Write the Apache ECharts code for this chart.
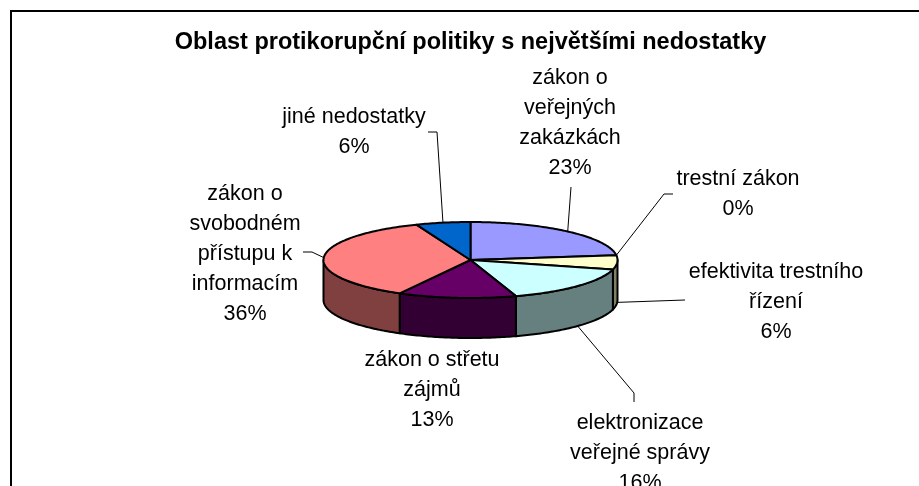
<!DOCTYPE html>
<html>
<head>
<meta charset="utf-8">
<title>Oblast protikorupční politiky</title>
<script src="https://cdn.jsdelivr.net/npm/echarts@6/dist/echarts.min.js"></script>
<style>
html, body { margin: 0; padding: 0; background: #fff; overflow: hidden; }
#chart { width: 919px; height: 486px; }
</style>
</head>
<body>
<div id="chart"></div>
<script>
var titleText = 'Oblast protikorupční politiky s největšími nedostatky';
var categories = ['zákon o\nveřejných\nzakázkách', 'trestní zákon', 'efektivita trestního\nřízení', 'elektronizace\nveřejné správy', 'zákon o střetu\nzájmů', 'zákon o\nsvobodném\npřístupu k\ninformacím', 'jiné nedostatky'];
var shares = [23, 0, 6, 16, 13, 36, 6];
var topColors = ['#9999FF', '#FFFFFF', '#FFFFCC', '#CCFFFF', '#660066', '#FF8080', '#0066CC'];
var wallColors = ['#4D4D80', '#808080', '#808066', '#668080', '#330033', '#804040', '#003366'];

// layout of the tilted pie
var cx = 470.5, cy = 260, rx = 147, ry = 38, depth = 40;
var labelX = [570, 738, 776, 640, 432, 245, 354];
var labelY = [63, 164, 257, 408, 345, 179, 102];
// leader elbows, listed from the label towards the pie
var leaders = [
    [[571, 187]],
    [[673, 194], [664, 194]],
    [[685, 300]],
    [[634, 402], [634, 393]],
    [],
    [[303, 252], [312, 252]],
    [[428, 132], [437, 132]]
];
var total = shares.reduce(function (a, b) { return a + b; }, 0);

function rim(angle, drop) {
    return [cx + rx * Math.sin(angle), cy - ry * Math.cos(angle) + (drop || 0)];
}
function arcPoints(from, to, drop) {
    var pts = [], n = Math.max(2, Math.ceil((to - from) * 60));
    for (var i = 0; i <= n; i++) {
        pts.push(rim(from + (to - from) * i / n, drop));
    }
    return pts;
}

var data = [], sum = 0;
for (var i = 0; i < shares.length; i++) {
    data.push({ value: [i, sum, sum + shares[i]] });
    sum += shares[i];
}

// walls first, then the tops, then labels on top of them
function renderWall(params, api) {
    var a0 = api.value(1) / total * Math.PI * 2, a1 = api.value(2) / total * Math.PI * 2;
    var from = Math.max(a0, Math.PI / 2), to = Math.min(a1, Math.PI * 1.5);
    if (to <= from) return null;
    var pts = arcPoints(from, to, 0).concat(arcPoints(from, to, depth).reverse());
    return {
        type: 'polygon',
        shape: { points: pts },
        style: { fill: wallColors[api.value(0)], stroke: '#000', lineWidth: 2, lineJoin: 'round' }
    };
}
function renderTop(params, api) {
    var a0 = api.value(1) / total * Math.PI * 2, a1 = api.value(2) / total * Math.PI * 2;
    if (a1 <= a0) return null;
    var pts = [[cx, cy]].concat(arcPoints(a0, a1, 0));
    return {
        type: 'polygon',
        shape: { points: pts },
        style: { fill: topColors[api.value(0)], stroke: '#000', lineWidth: 2, lineJoin: 'round' }
    };
}
function renderLabel(params, api) {
    var idx = api.value(0);
    var mid = (api.value(1) + api.value(2)) / 2 / total * Math.PI * 2;
    var front = Math.cos(mid) < 0;
    var children = [];
    if (leaders[idx].length) {
        children.push({
            type: 'polyline',
            shape: { points: leaders[idx].concat([rim(mid, front ? depth : 0)]) },
            style: { fill: null, stroke: '#000', lineWidth: 1 }
        });
    }
    children.push({
        type: 'text',
        x: labelX[idx],
        y: labelY[idx],
        style: {
            text: categories[idx] + '\n' + shares[idx] + '%',
            font: '21.5px "Liberation Sans", Arial, sans-serif',
            lineHeight: 30,
            fill: '#000',
            align: 'center',
            verticalAlign: 'top'
        }
    });
    return { type: 'group', children: children };
}

var chart = echarts.init(document.getElementById('chart'), null, { renderer: 'canvas' });
chart.setOption({
    animation: false,
    backgroundColor: '#fff',
    title: {
        text: titleText,
        left: 465.5,
        top: 26,
        textAlign: 'center',
        textStyle: { fontFamily: '"Liberation Sans", Arial, sans-serif', fontSize: 23.5, fontWeight: 'bold', color: '#000' }
    },
    graphic: [{
        type: 'polyline',
        silent: true,
        z: 10,
        shape: { points: [[11, 486], [11, 11], [919, 11]] },
        style: { fill: null, stroke: '#000', lineWidth: 2 }
    }],
    series: [
        { type: 'custom', coordinateSystem: 'none', renderItem: renderWall, data: data, z: 1, silent: true },
        { type: 'custom', coordinateSystem: 'none', renderItem: renderTop, data: data, z: 2, silent: true },
        { type: 'custom', coordinateSystem: 'none', renderItem: renderLabel, data: data, z: 3, silent: true }
    ]
});
</script>
</body>
</html>
